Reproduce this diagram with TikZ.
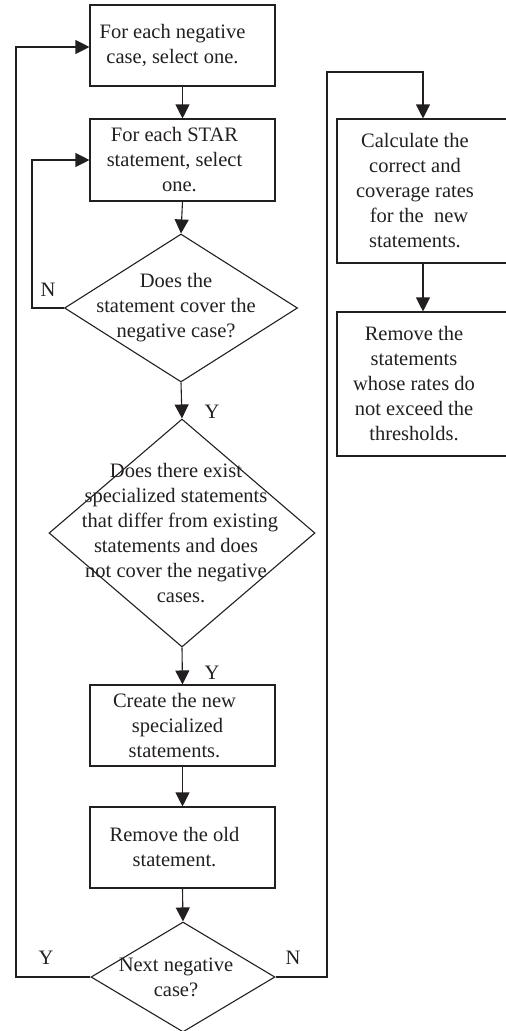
\documentclass[tikz,border=0pt]{standalone}
\usepackage{fontspec}
\setmainfont{Liberation Serif}
\usetikzlibrary{shapes.geometric,arrows.meta}
\definecolor{ink}{HTML}{231F20}
\begin{document}
\begin{tikzpicture}[x=1pt,y=-1pt,
  font=\fontsize{20.5}{25}\selectfont,
  every node/.style={text=ink},
  procbox/.style={draw=ink,line width=1.1pt,rectangle,inner sep=0pt},
  decbox/.style={draw=ink,line width=1.1pt,diamond,inner sep=0pt},
  txt/.style={align=center,inner sep=0pt},
  conn/.style={draw=ink,line width=1.1pt},
  arr/.style={conn,-{Triangle[length=14pt,width=14pt]}}]
\useasboundingbox (0,0) rectangle (506,1031);
% boxes
\node[procbox,minimum width=185pt,minimum height=81pt] (b1) at (182.5,45.5) {};
\node[procbox,minimum width=185pt,minimum height=82pt] (b2) at (182.5,160) {};
\node[decbox,minimum width=233pt,minimum height=148pt] (d1) at (181,308) {};
\node[decbox,minimum width=266pt,minimum height=228pt] (d2) at (182,533) {};
\node[procbox,minimum width=185pt,minimum height=81pt] (b3) at (182.5,725.5) {};
\node[procbox,minimum width=185pt,minimum height=81pt] (b4) at (182.5,847.5) {};
\node[decbox,minimum width=184pt,minimum height=110pt] (d3) at (183,977) {};
\node[procbox,minimum width=172pt,minimum height=144pt] (b5) at (423,191) {};
\node[procbox,minimum width=172pt,minimum height=144pt] (b6) at (423,384) {};
% texts
\node[txt,xshift=-10pt] (t1) at (b1) {For each negative\\case, select one.};
\node[txt,xshift=-8pt] (t2) at (b2) {For each STAR\\statement, select\\\hspace*{10pt}one.};
\node[txt,xshift=-5pt] (t3) at (d1) {Does the\\statement cover the\\negative case?};
\node[txt,xshift=-6pt] (t4) at (d2) {Does there exist\\specialized statements\\\hspace*{8pt}that differ from existing\\statements and does\\not cover the negative\\\hspace*{10pt}cases.};
\node[txt,xshift=-8pt] (t5) at (b3) {Create the new\\\hspace*{6pt}specialized\\statements.};
\node[txt,xshift=-8pt] (t6) at (b4) {Remove the old\\statement.};
\node[txt,xshift=-7pt] (t7) at (d3) {Next negative\\case?};
\node[txt,xshift=-8pt] (t8) at (b5) {Calculate the\\correct and\\coverage rates\\\hspace*{8pt}for the\ \ new\\statements.};
\node[txt,xshift=-9pt] (t9) at (b6) {Remove the\\statements\\whose rates do\\not exceed the\\thresholds.};
% labels
\node (ly1) at (212,412) {Y};
\node (ly2) at (212,673) {Y};
\node (ln1) at (48,290) {N};
\node (ly3) at (46,958) {Y};
\node (ln2) at (293,958) {N};
% helper coordinates
\coordinate (lx) at (16,0);
\coordinate (ix) at (32,0);
\coordinate (rt) at (327,72);
% connectors
\draw[arr] (b1.south) -- (b2.north);
\draw[arr] (b2.south) -- (d1.north);
\draw[arr] (d1.south) -- (d2.north);
\draw[arr] (d2.south) -- (b3.north);
\draw[arr] (b3.south) -- (b4.north);
\draw[arr] (b4.south) -- (d3.north);
\draw[arr] (b5.south) -- (b6.north);
\draw[arr] (d1.west) -- (d1.west -| ix) -- (ix |- b2.west) -- (b2.west);
\draw[arr] (d3.west) -- (d3.west -| lx) -- (lx |- 0,47) -- (b1.west |- 0,47);
\draw[arr] (d3.east) -- (d3.east -| rt) -- (rt) -- (rt -| b5.north) -- (b5.north);
\end{tikzpicture}
\end{document}
